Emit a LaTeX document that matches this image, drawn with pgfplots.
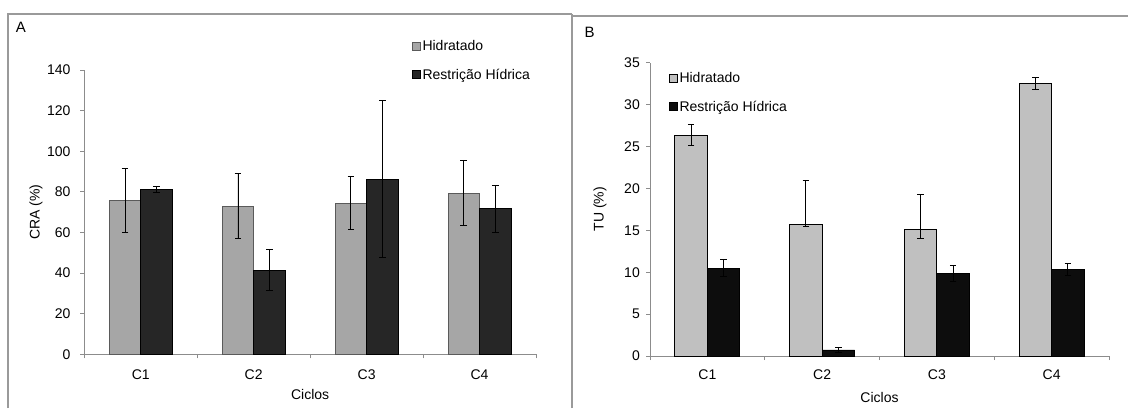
\documentclass[border=0pt]{standalone}
\usepackage{pgfplots}
\pgfplotsset{compat=1.18}
\usepackage{fontspec}
\setmainfont{Liberation Sans}
\definecolor{hidA}{HTML}{A6A6A6}
\definecolor{hidAd}{HTML}{5A5A5A}
\definecolor{resA}{HTML}{262626}
\definecolor{hidB}{HTML}{C0C0C0}
\definecolor{resB}{HTML}{0D0D0D}
\definecolor{axgray}{HTML}{8C8C8C}
\definecolor{framegray}{HTML}{9A9A9A}
\pgfplotsset{
  common/.style={
    scale only axis,
    font=\fontsize{14}{16}\selectfont,
    /pgf/number format/assume math mode=true,
    axis x line*=bottom, axis y line*=left,
    axis line style={axgray, line width=0.9pt},
    every tick/.style={axgray, line width=0.9pt},
    tick align=outside,
    major tick length=4pt,
    xmin=0.5, xmax=4.5, ymin=0,
    xtick={0.5,1.5,2.5,3.5,4.5},
    xticklabels={},
    extra x ticks={1,2,3,4},
    extra x tick labels={C1,C2,C3,C4},
    extra x tick style={major tick length=0pt},
    ybar=0pt,
    error bars/y dir=both, error bars/y explicit,
    error bars/error bar style={black, line width=0.8pt},
    error bars/error mark options={rotate=90, mark size=3.3pt, black, line width=0.8pt},
    legend cell align=left,
    legend image code/.code={\draw[##1, line width=0.8pt] (0pt,-4pt) rectangle (8pt,4pt);},
    legend style={draw=none, fill=none, inner sep=0pt, row sep=17pt,
      font=\fontsize{14}{16}\selectfont,
      nodes={inner xsep=1.5pt, inner ysep=0pt}},
  }
}
\begin{document}
\begin{tikzpicture}[x=1pt,y=1pt]
\useasboundingbox (0,0) rectangle (1128,408);
% frames
\draw[framegray, line width=1.2pt] (8,0) -- (8,394) -- (572,394);
\draw[framegray, line width=1.5pt] (572,0) -- (572,394);
\draw[framegray, line width=1.2pt] (572,392) -- (1128,392);
\node[font=\fontsize{15}{17}\selectfont] at (21,380.5) {A};
\node[font=\fontsize{15}{17}\selectfont] at (589.7,376) {B};

\begin{axis}[common,
  at={(84.3pt,53.7pt)}, anchor=south west,
  width=451.7pt, height=284.3pt,
  ymax=140, ytick={0,20,...,140},
  bar width=31.5pt,
  every y tick label/.append style={anchor=east, inner sep=0pt, xshift=-9.6pt},
  every x tick label/.append style={anchor=center, inner sep=0pt, yshift=-20.7pt},
  ylabel={CRA (\%)}, xlabel={Ciclos},
  ylabel style={at={(axis description cs:-0.107,0.5)}, anchor=center},
  xlabel style={at={(axis description cs:0.5,-0.143)}, anchor=center},
  legend style={at={(axis description cs:0.7255,1.1055)}, anchor=north west},
]
\addplot[fill=hidA, draw=hidAd, line width=0.8pt] coordinates {
  (1,75.7) +- (0,15.6)
  (2,72.9) +- (0,16.0)
  (3,74.5) +- (0,13.0)
  (4,79.4) +- (0,16.0)
};
\addplot[fill=resA, draw=black, line width=0.8pt] coordinates {
  (1,81.1) +- (0,1.5)
  (2,41.5) +- (0,10.0)
  (3,86.3) +- (0,38.7)
  (4,71.7) +- (0,11.5)
};
\legend{Hidratado, Restrição Hídrica}
\end{axis}

\begin{axis}[common,
  at={(650pt,52pt)}, anchor=south west,
  width=459pt, height=293.3pt,
  ymax=35, ytick={0,5,...,35},
  bar width=32.5pt,
  every y tick label/.append style={anchor=east, inner sep=0pt, xshift=-6pt},
  every x tick label/.append style={anchor=center, inner sep=0pt, yshift=-19pt},
  ylabel={TU (\%)}, xlabel={Ciclos},
  ylabel style={at={(axis description cs:-0.109,0.5)}, anchor=center},
  xlabel style={at={(axis description cs:0.5,-0.14)}, anchor=center},
  legend style={at={(axis description cs:0.0414,0.968)}, anchor=north west},
]
\addplot[fill=hidB, draw=black, line width=0.8pt] coordinates {
  (1,26.37) += (0,1.3) -= (0,1.2)
  (2,15.75) += (0,5.25) -= (0,0.3)
  (3,15.1) += (0,4.2) -= (0,1.1)
  (4,32.5) += (0,0.72) -= (0,0.72)
};
\addplot[fill=resB, draw=black, line width=0.8pt] coordinates {
  (1,10.5) += (0,1.0) -= (0,1.0)
  (2,0.72) += (0,0.28) -= (0,0.28)
  (3,9.85) += (0,1.0) -= (0,1.0)
  (4,10.35) += (0,0.7) -= (0,0.7)
};
\legend{Hidratado, Restrição Hídrica}
\end{axis}
\end{tikzpicture}
\end{document}
